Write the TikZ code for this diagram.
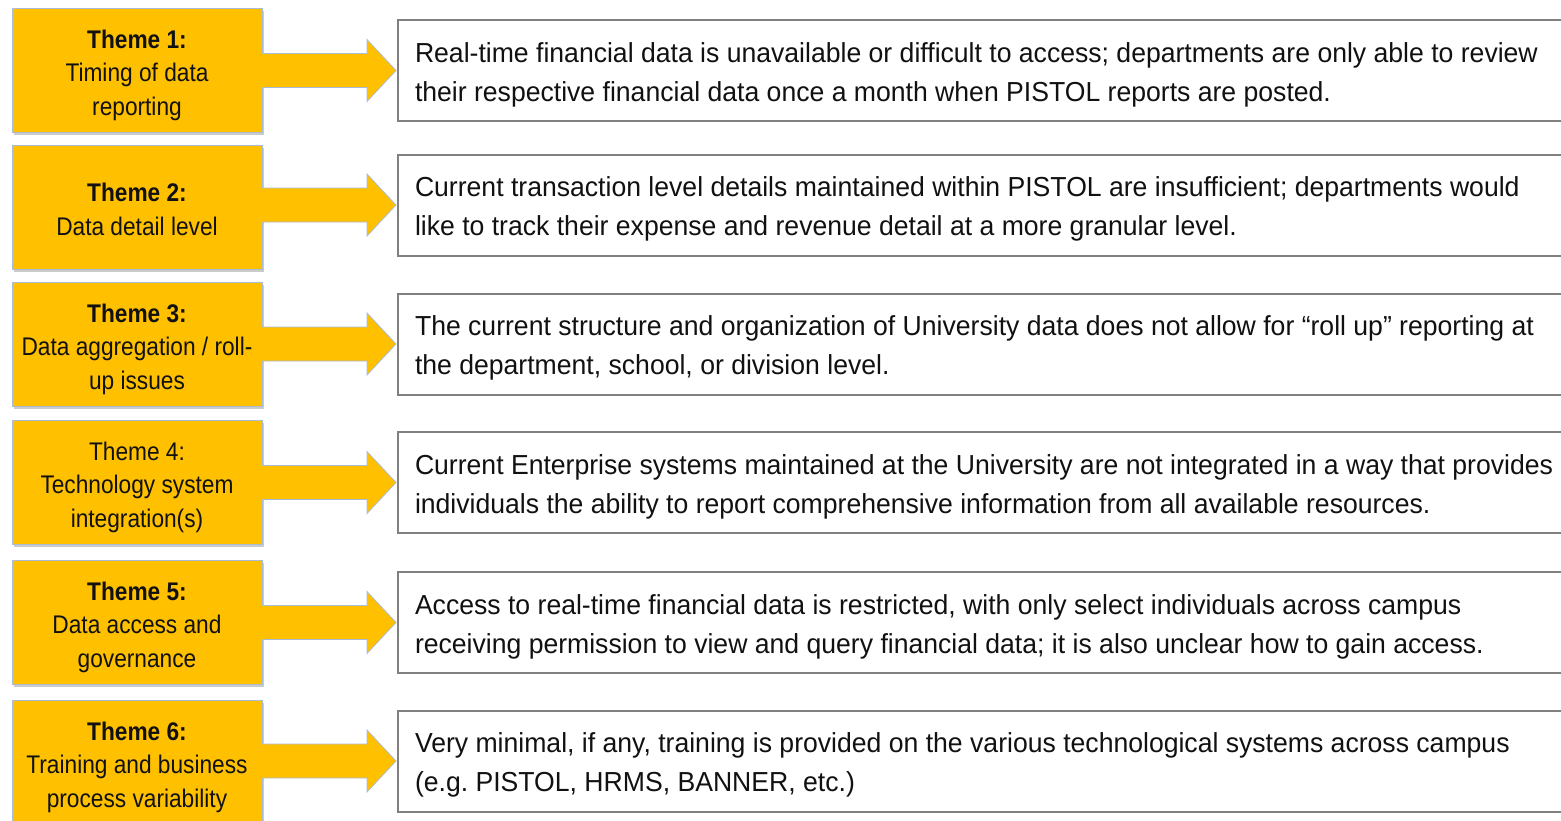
\documentclass[tikz,border=0pt]{standalone}
\usepackage{fontspec}
\setmainfont{Liberation Sans}
\newfontfamily\themefont[FakeStretch=0.89]{Liberation Sans}
\newfontfamily\descfont[FakeStretch=0.967]{Liberation Sans}
\usetikzlibrary{calc,shadows}
\definecolor{gold}{HTML}{FFC000}
\definecolor{goldedge}{HTML}{A9BCD6}
\definecolor{boxedge}{HTML}{808080}
\definecolor{txt}{HTML}{111111}
\newcommand\ttop{\rule{0pt}{30pt}}
\newcommand\tbot{\rule[-7pt]{0pt}{7pt}}
\newcommand\dtop{\rule{0pt}{29pt}}
\newcommand\dbot{\rule[-7pt]{0pt}{7pt}}
\begin{document}
\begin{tikzpicture}[x=1pt,y=-1pt,
  theme/.style={fill=gold, draw=goldedge, line width=1pt, minimum width=250pt,
    minimum height=124pt, inner sep=0pt, align=flush center, text width=246pt, text=txt,
    font=\themefont\fontsize{25.5}{33.5}\selectfont\frenchspacing,
    execute at begin node=\ttop, execute at end node=\tbot,
    drop shadow={shadow xshift=2pt, shadow yshift=-3pt, fill=black!45, opacity=0.45}},
  desc/.style={draw=boxedge, line width=2pt, fill=white, minimum width=1200pt,
    minimum height=101pt, anchor=west, align=flush left, text width=1166pt,
    inner xsep=17pt, inner ysep=0pt, text=txt,
    execute at begin node=\dtop, execute at end node=\dbot,
    font=\descfont\fontsize{27.5}{39}\selectfont\frenchspacing},
  arrowfill/.style={fill=gold},
  arrowline/.style={draw=goldedge, line width=0.8pt, line join=miter}]
\useasboundingbox (0,0) rectangle (1561,820);
\clip (0,0) rectangle (1561,820);
\fill[white] (0,0) rectangle (1561,820);

\node[theme] (t1) at (137,70) {\textbf{Theme 1:}\\Timing of data\\reporting};
\node[theme] (t2) at (137,207) {\textbf{Theme 2:}\\Data detail level};
\node[theme] (t3) at (137,344) {\textbf{Theme 3:}\\Data aggregation / roll-\\up issues};
\node[theme] (t4) at (137,482) {Theme 4:\\Technology system\\integration(s)};
\node[theme] (t5) at (137,622) {\textbf{Theme 5:}\\Data access and\\governance};
\node[theme] (t6) at (137,762) {\textbf{Theme 6:}\\Training and business\\process variability};

\node[desc] (d1) at (397,70.5) {Real-time financial data is unavailable or difficult to access; departments are only able to review\\their respective financial data once a month when PISTOL reports are posted.};
\node[desc] (d2) at (397,205) {Current transaction level details maintained within PISTOL are insufficient; departments would\\like to track their expense and revenue detail at a more granular level.};
\node[desc] (d3) at (397,344) {The current structure and organization of University data does not allow for “roll up” reporting at\\the department, school, or division level.};
\node[desc] (d4) at (397,482.5) {Current Enterprise systems maintained at the University are not integrated in a way that provides\\individuals the ability to report comprehensive information from all available resources.};
\node[desc] (d5) at (397,622.5) {Access to real-time financial data is restricted, with only select individuals across campus\\receiving permission to view and query financial data; it is also unclear how to gain access.};
\node[desc] (d6) at (397,761) {Very minimal, if any, training is provided on the various technological systems across campus\\(e.g. PISTOL, HRMS, BANNER, etc.)};

\foreach \i in {1,...,6}{
  \fill[arrowfill] ($(t\i.east |- d\i.west)+(-1,-17)$) -- ($(d\i.west)+(-30,-17)$)
    -- ($(d\i.west)+(-30,-31)$) -- ($(d\i.west)+(-1,0)$) -- ($(d\i.west)+(-30,31)$)
    -- ($(d\i.west)+(-30,17)$) -- ($(t\i.east |- d\i.west)+(-1,17)$) -- cycle;
  \draw[arrowline] ($(t\i.east |- d\i.west)+(0,-17)$) -- ($(d\i.west)+(-30,-17)$)
    -- ($(d\i.west)+(-30,-31)$) -- ($(d\i.west)+(-1,0)$) -- ($(d\i.west)+(-30,31)$)
    -- ($(d\i.west)+(-30,17)$) -- ($(t\i.east |- d\i.west)+(0,17)$);
}
\end{tikzpicture}
\end{document}
